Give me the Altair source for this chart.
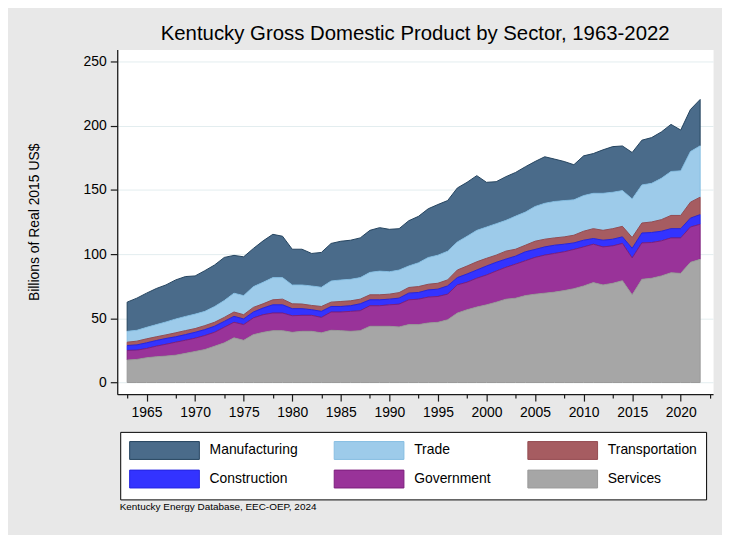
import altair as alt
import pandas as pd

years = list(range(1963, 2023))

services = [17.5, 18.0, 19.3, 20.1, 20.6, 21.3, 22.7, 24.2, 25.7, 28.3,
            30.9, 34.8, 32.9, 37.3, 39.1, 40.4, 40.4, 39.1, 39.9, 39.9,
            38.7, 40.7, 40.4, 39.9, 40.4, 43.8, 43.8, 43.8, 43.3, 45.1,
            45.1, 46.4, 46.9, 48.9, 54.1, 56.7, 58.8, 60.5, 62.6, 64.9,
            65.7, 67.7, 68.8, 69.6, 70.4, 71.6, 73.1, 75.2, 77.8, 76.0,
            77.3, 79.3, 68.3, 80.4, 81.2, 83.0, 85.5, 85.0, 93.6, 95.9]

government = [7.5, 7.2, 7.2, 8.2, 9.2, 10.1, 10.2, 10.3, 10.9, 10.8,
              12.1, 12.1, 12.2, 13.0, 13.7, 13.7, 13.7, 12.9, 12.4, 12.4,
              12.0, 14.2, 14.5, 15.5, 15.5, 16.0, 16.0, 16.7, 17.7, 19.3,
              19.8, 20.1, 20.1, 19.9, 21.9, 21.4, 22.4, 23.2, 24.2, 24.8,
              26.5, 27.1, 28.6, 29.6, 30.1, 30.2, 30.5, 30.4, 29.9, 29.6,
              29.1, 29.0, 28.7, 28.3, 27.8, 27.3, 27.1, 27.6, 27.5, 27.3]

construction = [3.8, 4.1, 4.4, 4.4, 4.5, 4.2, 4.4, 4.6, 4.6, 4.7,
                4.6, 4.6, 4.4, 4.6, 5.2, 6.4, 6.4, 5.5, 5.2, 4.4,
                4.7, 4.3, 4.3, 4.4, 5.4, 4.6, 4.6, 4.4, 4.7, 5.2,
                5.2, 5.6, 5.7, 6.4, 5.7, 6.4, 6.4, 7.0, 6.8, 6.4,
                6.2, 7.0, 6.2, 6.4, 6.4, 5.9, 5.1, 5.2, 4.4, 5.2,
                5.2, 5.1, 7.5, 7.7, 7.8, 7.5, 7.2, 7.2, 6.9, 7.5]

transportation = [2.6, 2.9, 3.1, 2.9, 2.8, 3.1, 3.1, 2.9, 3.1, 3.1,
                  3.1, 3.4, 3.3, 3.6, 3.3, 3.9, 4.4, 3.8, 3.6, 3.3,
                  3.8, 3.4, 3.9, 3.8, 3.6, 3.9, 3.9, 3.9, 4.3, 4.4,
                  4.6, 4.4, 4.6, 4.7, 5.9, 6.2, 6.4, 6.0, 5.6, 6.2,
                  5.4, 5.1, 6.4, 6.0, 5.7, 5.7, 6.0, 7.0, 7.7, 7.7,
                  8.2, 8.2, 8.4, 7.8, 8.2, 9.0, 10.3, 10.3, 12.4, 13.6]

trade = [8.5, 8.5, 9.0, 9.5, 10.1, 10.8, 11.1, 11.3, 11.1, 12.3,
         13.2, 14.7, 14.9, 16.2, 16.8, 17.3, 16.8, 14.7, 14.9, 15.2,
         15.0, 16.5, 16.8, 16.8, 16.8, 17.5, 18.5, 17.5, 17.6, 16.8,
         18.6, 20.9, 21.9, 22.4, 21.9, 23.2, 24.5, 24.4, 24.5, 24.0,
         25.8, 25.8, 27.1, 28.0, 28.4, 28.3, 27.6, 27.8, 27.6, 28.9,
         28.4, 27.9, 30.1, 29.7, 30.1, 32.2, 34.3, 34.8, 39.5, 40.0]

manufacturing = [22.7, 25.0, 26.6, 28.1, 28.8, 30.4, 31.0, 29.7, 31.7, 32.3,
                 33.5, 29.4, 30.2, 29.7, 32.2, 33.7, 32.2, 27.8, 27.8, 25.3,
                 27.1, 29.2, 30.1, 30.4, 30.9, 32.7, 33.8, 33.0, 32.2, 35.2,
                 36.1, 37.9, 39.4, 39.4, 42.0, 42.0, 42.6, 34.8, 32.7, 34.0,
                 34.0, 35.3, 35.0, 36.2, 33.0, 30.4, 27.3, 30.9, 30.9, 33.8,
                 35.5, 34.7, 36.1, 34.8, 35.6, 36.1, 36.6, 31.7, 32.7, 36.1]

# legend order (row by row)
sectors = ["Manufacturing", "Trade", "Transportation",
           "Construction", "Government", "Services"]
fills = ["#4a6b8a", "#9dcbea", "#a65c61", "#3333ff", "#993399", "#a6a6a6"]
strokes = ["#24445f", "#86bde2", "#944c52", "#2424e0", "#7d1f7d", "#9a9a9a"]

# stacking order: bottom first
stack_rank = {"Services": 0, "Government": 1, "Construction": 2,
              "Transportation": 3, "Trade": 4, "Manufacturing": 5}
series = {"Manufacturing": manufacturing, "Trade": trade,
          "Transportation": transportation, "Construction": construction,
          "Government": government, "Services": services}

rows = []
for name, vals in series.items():
    for yr, v in zip(years, vals):
        rows.append({"year": yr, "sector": name, "value": v,
                     "rank": stack_rank[name]})
df = pd.DataFrame(rows)

label_years = list(range(1965, 2021, 5))
tick_years = sorted(label_years + list(range(1963, 2024, 5)))
y_ticks = [0, 50, 100, 150, 200, 250]

FONT = "Liberation Sans"
AX = "#1a1a1a"

chart = alt.Chart(df).mark_area(strokeWidth=1, interpolate="linear").encode(
    x=alt.X(
        "year:Q",
        scale=alt.Scale(domain=[1961.98, 2023.33], nice=False, zero=False),
        axis=alt.Axis(
            values=tick_years, format="d",
            labelExpr="datum.value % 5 == 0 ? datum.label : ''",
            tickSize={"condition": {"test": "datum.value % 5 == 0", "value": 7}, "value": 4},
            tickColor=AX, domainColor=AX, domainWidth=1.3, tickWidth=1.2,
            labelFont=FONT, labelFontSize=14, labelColor="black", labelPadding=5,
            grid=False, labelFlush=False, labelOverlap=False,
            title="Kentucky Energy Database, EEC-OEP, 2024",
            titleFont=FONT, titleFontSize=10, titleFontWeight="normal",
            titleColor="black", titleAlign="left", titleAnchor="start",
            titleBaseline="middle", titleX=2, titleY=113,
        ),
    ),
    y=alt.Y(
        "value:Q", stack="zero",
        scale=alt.Scale(domain=[-9.05, 259.28], nice=False, zero=False),
        axis=alt.Axis(
            values=y_ticks, format="d",
            tickSize=7, tickColor=AX, domainColor=AX, domainWidth=1.3, tickWidth=1.2,
            labelFont=FONT, labelFontSize=14, labelColor="black", labelPadding=4,
            grid=True, gridColor="#e3edef", gridWidth=1,
            title="Billions of Real 2015 US$",
            titleFont=FONT, titleFontSize=14, titleFontWeight="normal",
            titleColor="black", titleAngle=270, titleAlign="center",
            titleBaseline="middle", titleX=-83, titleY=173.5,
        ),
    ),
    color=alt.Color(
        "sector:N",
        scale=alt.Scale(domain=sectors, range=fills),
        legend=alt.Legend(
            title=None, orient="none", legendX=3, legendY=385,
            columns=3, direction="horizontal", gridAlign="each",
            symbolType="M-1,-1L6.8,-1L6.8,1L-1,1Z", symbolSize=324,
            symbolStrokeWidth=1, symbolStrokeColor="rgba(0,0,0,0.25)",
            symbolOpacity=1,
            labelFont=FONT, labelFontSize=14, labelColor="black",
            labelOffset=62, labelLimit=300,
            columnPadding=34, rowPadding=6, padding=9,
            fillColor="white", strokeColor="black",
        ),
    ),
    stroke=alt.Stroke(
        "sector:N",
        scale=alt.Scale(domain=sectors, range=strokes),
        legend=None,
    ),
    order=alt.Order("rank:Q", sort="ascending"),
).properties(
    width=600,
    height=347,
    padding={"left": 110, "top": 40, "right": 9, "bottom": 140},
    autosize=alt.AutoSizeParams(type="none"),
    background="#e8e8e8",
    title=alt.TitleParams(
        "Kentucky Gross Domestic Product by Sector, 1963-2022",
        font=FONT, fontSize=20.5, fontWeight="normal", color="black",
        anchor="middle", baseline="alphabetic", offset=7.3, dy=18.5,
    ),
).configure_view(fill="white", stroke="transparent")

chart.save("out.html", embed_options={"renderer": "svg", "actions": False})
